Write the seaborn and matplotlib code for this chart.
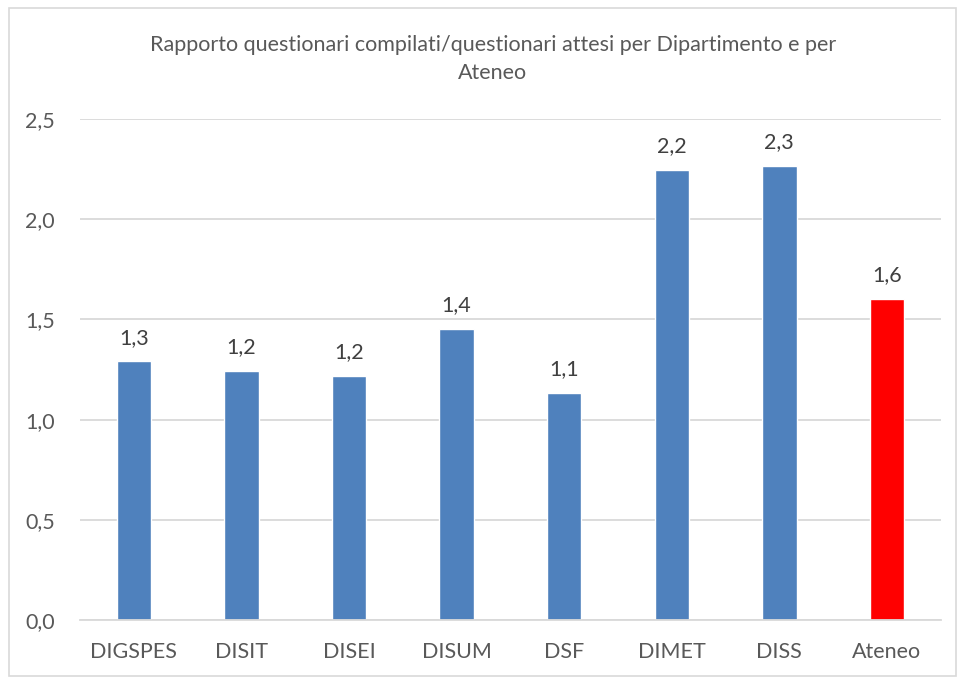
import seaborn as sns
import pandas as pd
import matplotlib.pyplot as plt
from matplotlib.patches import Rectangle

# dati
dipartimenti = ['DIGSPES', 'DISIT', 'DISEI', 'DISUM', 'DSF', 'DIMET', 'DISS', 'Ateneo']
rapporto = [1.29, 1.245, 1.22, 1.45, 1.135, 2.246, 2.265, 1.60]
colori = ['#4F81BD'] * 7 + ['#FF0000']

df = pd.DataFrame({'dip': dipartimenti, 'val': rapporto})

sns.set_style('white')
plt.rcParams['font.family'] = ['Lato', 'DejaVu Sans']

fig = plt.figure(figsize=(9.57, 6.78), dpi=100)
ax = fig.add_axes([0.0836, 0.0855, 0.8994, 0.739])

sns.barplot(data=df, x='dip', y='val', hue='dip', palette=colori,
            width=0.32, legend=False, saturation=1, ax=ax)

ax.set_ylim(0, 2.5)
ax.set_yticks([0, 0.5, 1.0, 1.5, 2.0, 2.5])
ax.set_yticklabels([f'{t:.1f}'.replace('.', ',') for t in ax.get_yticks()])
ax.yaxis.grid(True, color='#D9D9D9', linewidth=1.3)
ax.set_axisbelow(True)
for s in ['top', 'right', 'left']:
    ax.spines[s].set_visible(False)
ax.spines['bottom'].set_color('#D9D9D9')
ax.spines['bottom'].set_linewidth(1.3)
ax.tick_params(axis='both', length=0, labelsize=15.5, colors='#595959')
ax.tick_params(axis='x', pad=16)
ax.tick_params(axis='y', pad=18)
ax.set_xlabel('')
ax.set_ylabel('')

# etichette sopra le barre
for i, v in enumerate(rapporto):
    ax.annotate(f'{v:.1f}'.replace('.', ','), (i, v), xytext=(0, 10),
                textcoords='offset points', ha='center', va='bottom',
                fontsize=15.5, color='#404040')

fig.text(0.515, 0.913, 'Rapporto questionari compilati/questionari attesi per Dipartimento e per\nAteneo',
         ha='center', va='center', fontsize=15.5, color='#595959', linespacing=1.45)

# cornice del grafico
fig.patches.append(Rectangle((0.009, 0.003), 0.99, 0.985, transform=fig.transFigure,
                             fill=False, edgecolor='#D9D9D9', linewidth=1.2))

fig.savefig('out.png', dpi=100)
